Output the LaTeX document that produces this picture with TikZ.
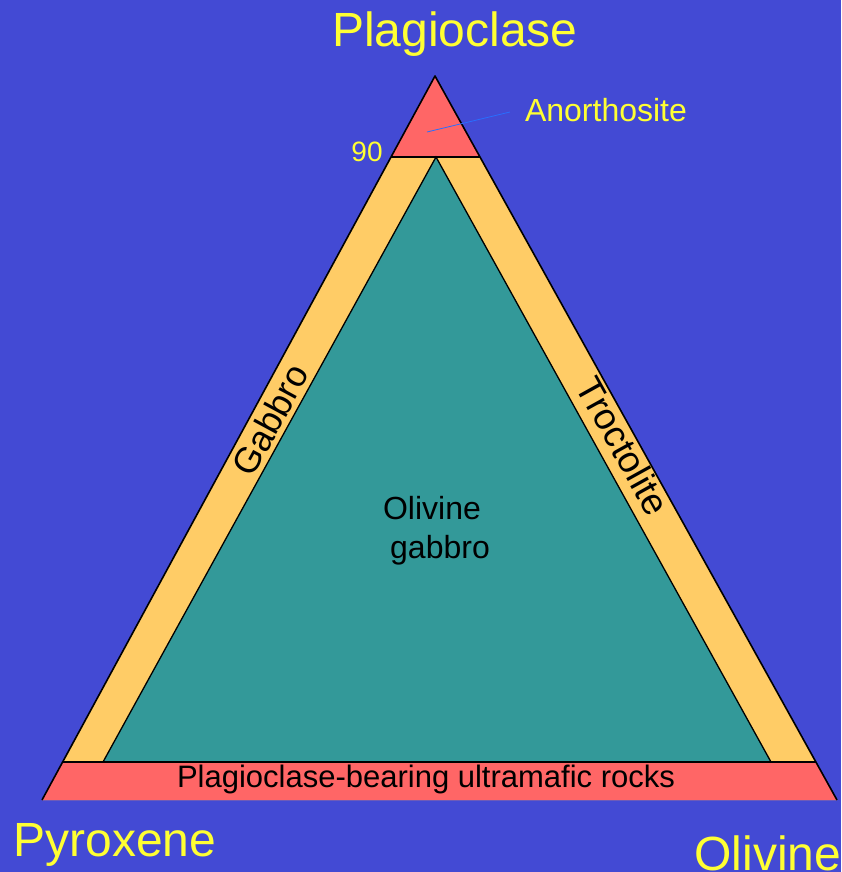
\documentclass[tikz,border=0pt]{standalone}
\usepackage{fontspec}
\setmainfont{Liberation Sans}
\definecolor{bg}{RGB}{67,74,212}
\definecolor{rockred}{RGB}{255,102,102}
\definecolor{band}{RGB}{255,204,102}
\definecolor{teal}{RGB}{51,153,153}
\definecolor{ylw}{RGB}{255,255,51}
\definecolor{pointer}{RGB}{40,110,255}
\tikzset{
  ylabel/.style={text=ylw, inner sep=0pt},
  blabel/.style={text=black, inner sep=0pt},
  edge/.style={draw=black, line width=1.6pt, line join=round},
  thinedge/.style={draw=black, line width=1.3pt}
}
\begin{document}
\begin{tikzpicture}[x=1pt,y=-1pt]
\useasboundingbox (0,0) rectangle (841,872);
\fill[bg] (0,0) rectangle (841,872);
% corner coordinates
\coordinate (A) at (435,76);
\coordinate (L) at (42,800);
\coordinate (R) at (837,800);
\coordinate (tl) at (391,157);
\coordinate (tr) at (480,157);
\coordinate (bl) at (63,762);
\coordinate (br) at (816,762);
\coordinate (iA) at (436,157);
\coordinate (iL) at (103,762);
\coordinate (iR) at (771,762);
% fills
\fill[band] (A) -- (L) -- (R) -- cycle;
\fill[rockred] (A) -- (tl) -- (tr) -- cycle;
\fill[rockred] (bl) -- (L) -- (R) -- (br) -- cycle;
\fill[teal] (iA) -- (iL) -- (iR) -- cycle;
% lines
\draw[edge] (L) -- (A) -- (R);
\draw[thinedge] (tl) -- (tr);
\draw[thinedge] (bl) -- (br);
\draw[thinedge] (iL) -- (iA) -- (iR);
% anorthosite pointer
\coordinate (an) at (427,132);
\coordinate (ane) at (510,112);
\draw[pointer, line width=0.8pt] (an) -- (ane);
% labels
\node[ylabel, font=\fontsize{48}{48}\selectfont] (plag) at (455,34) {Plagioclase};
\node[ylabel, font=\fontsize{48}{48}\selectfont] (pyx) at (115,845) {Pyroxene};
\node[ylabel, font=\fontsize{48}{48}\selectfont] (oliv) at (768,853) {Olivine};
\node[ylabel, font=\fontsize{32}{32}\selectfont] (anor) at (606,110) {Anorthosite};
\node[ylabel, font=\fontsize{28}{28}\selectfont] (ninety) at (367,152) {90};
\node[blabel, font=\fontsize{31}{31}\selectfont] (pbur) at (426,779) {Plagioclase-bearing ultramafic rocks};
\node[blabel, font=\fontsize{32}{32}\selectfont] (ol1) at (432,508) {Olivine};
\node[blabel, font=\fontsize{32}{32}\selectfont] (ol2) at (440,550) {gabbro};
\node[blabel, font=\fontsize{36}{36}\selectfont, rotate=61.5] (gab) at (270,420) {Gabbro};
\node[blabel, font=\fontsize{37}{37}\selectfont, rotate=-61] (troc) at (623,446) {Troctolite};
\end{tikzpicture}
\end{document}
